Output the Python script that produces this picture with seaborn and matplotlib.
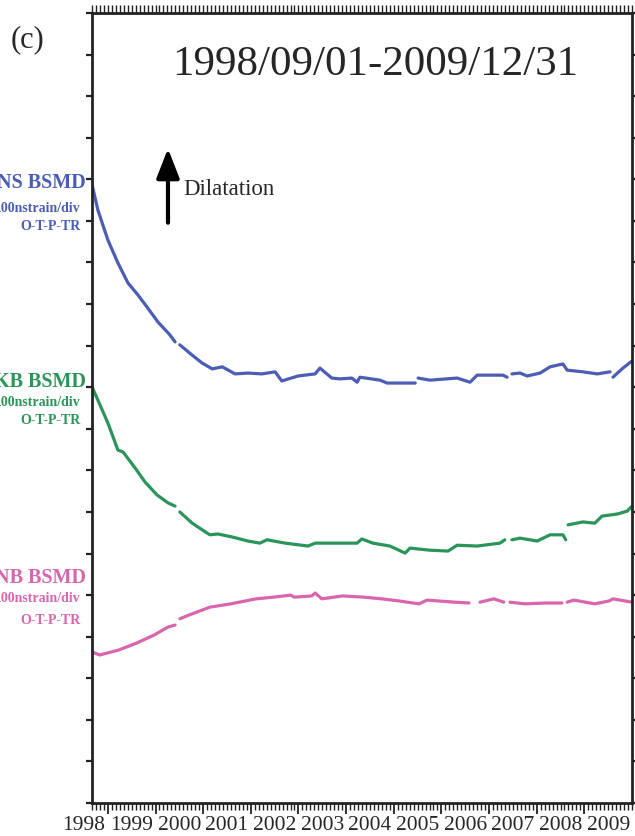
import numpy as np
import pandas as pd
import matplotlib
matplotlib.use("Agg")
import matplotlib.pyplot as plt
import matplotlib.transforms as mtransforms
from matplotlib.ticker import MultipleLocator, FixedLocator
import seaborn as sns

nan = np.nan

# strain records, decimal year vs value (100 nstrain per division, offset per station)
# nan marks a break in the record
blue_year = [1998.67, 1998.79, 1999.00, 1999.21, 1999.42, 1999.63, 1999.82, 2000.05,
             2000.30, 2000.41, 2000.46, 2000.51, 2000.77, 2000.98, 2001.19, 2001.40,
             2001.67, 2001.94, 2002.23, 2002.51, 2002.65, 2002.99, 2003.35, 2003.45,
             2003.70, 2003.87, 2004.12, 2004.23, 2004.29, 2004.71, 2004.86, 2005.34,
             2005.45, 2005.48, 2005.51, 2005.76, 2006.33, 2006.60, 2006.75, 2007.29,
             2007.38, 2007.43, 2007.48, 2007.65, 2007.80, 2008.07, 2008.28, 2008.55,
             2008.64, 2008.97, 2009.27, 2009.54, 2009.57, 2009.60, 2009.81, 2010.00]
blue_val = [1486, 1426, 1354, 1299, 1251, 1222, 1193, 1157,
            1126, 1109, nan, 1102, 1077, 1058, 1044, 1049,
            1032, 1034, 1032, 1037, 1015, 1027, 1032, 1046,
            1022, 1020, 1022, 1012, 1024, 1017, 1010, 1010,
            1010, nan, 1022, 1017, 1022, 1012, 1029, 1029,
            1024, nan, 1032, 1034, 1027, 1034, 1049, 1056,
            1041, 1037, 1032, 1037, nan, 1024, 1046, 1063]

green_year = [1998.67, 1998.79, 1999.00, 1999.21, 1999.32, 1999.57, 1999.78, 2000.03,
              2000.26, 2000.41, 2000.46, 2000.51, 2000.77, 2000.98, 2001.14, 2001.31,
              2001.60, 2001.94, 2002.19, 2002.34, 2002.72, 2003.20, 2003.35, 2003.83,
              2004.23, 2004.33, 2004.56, 2004.92, 2005.24, 2005.34, 2005.76, 2006.14,
              2006.33, 2006.75, 2007.23, 2007.33, 2007.40, 2007.48, 2007.65, 2008.01,
              2008.28, 2008.55, 2008.61, 2008.63, 2008.66, 2008.97, 2009.22, 2009.37,
              2009.69, 2009.90, 2010.00]
green_val = [1000, 969, 914, 849, 844, 806, 772, 741,
             722, 714, nan, 700, 673, 657, 645, 647,
             640, 630, 625, 633, 625, 618, 625, 625,
             625, 635, 625, 618, 601, 613, 608, 606,
             620, 618, 625, 633, nan, 633, 637, 630,
             645, 645, 633, nan, 669, 676, 673, 690,
             695, 702, 714]

pink_year = [1998.67, 1998.83, 1999.23, 1999.61, 1999.97, 2000.26, 2000.41, 2000.46,
             2000.51, 2000.70, 2001.14, 2001.58, 2002.11, 2002.47, 2002.84, 2002.91,
             2003.28, 2003.35, 2003.49, 2003.93, 2004.38, 2004.75, 2005.11, 2005.40,
             2005.53, 2005.70, 2005.93, 2006.28, 2006.58, 2006.70, 2006.81, 2007.10,
             2007.31, 2007.38, 2007.44, 2007.75, 2008.19, 2008.53, 2008.59, 2008.64,
             2008.78, 2009.22, 2009.52, 2009.60, 2010.00]
pink_val = [363, 356, 368, 385, 404, 423, 428, nan,
            443, 452, 471, 479, 491, 495, 500, 495,
            498, 505, 491, 498, 495, 491, 486, 481,
            479, 488, 486, 483, 481, nan, 483, 491,
            483, nan, 483, 479, 481, 481, nan, 483,
            488, 479, 486, 491, 483]

stations = ["NS BSMD", "KB BSMD", "NB BSMD"]
years = list(range(1998, 2010))

colors = {"NS BSMD": "#4b5db4", "KB BSMD": "#2a9459", "NB BSMD": "#d865ad"}

# long table, split into segments at the nan breaks
frames = []
seg_id = 0
for name, xs, ys in zip(stations, [blue_year, green_year, pink_year],
                        [blue_val, green_val, pink_val]):
    d = pd.DataFrame({"year": xs, "value": ys})
    d["seg"] = d["value"].isna().cumsum() + seg_id
    seg_id = d["seg"].max() + 1
    d["station"] = name
    frames.append(d.dropna())
df = pd.concat(frames, ignore_index=True)

sns.set_style("ticks")
plt.rcParams["font.family"] = ["Liberation Serif", "DejaVu Serif"]

W, H = 635, 836
fig = plt.figure(figsize=(W / 100, H / 100), dpi=100)
ax = fig.add_axes([92 / W, 1 - 803 / H, 540 / W, 790 / H])

sns.lineplot(data=df, x="year", y="value", hue="station", units="seg",
             estimator=None, sort=False, palette=colors, linewidth=2.3,
             legend=False, ax=ax)

ax.set_xlim(1998 + 8 / 12, 2010)
ax.set_ylim(0, 1900)
ax.set_xlabel("")
ax.set_ylabel("")

for s in ax.spines.values():
    s.set_visible(True)
    s.set_linewidth(2)
    s.set_color("#222222")

# y: one tick per division, both sides, no labels
ax.yaxis.set_major_locator(MultipleLocator(100))
ax.tick_params(axis="y", which="major", left=True, right=True, direction="out",
               length=4, width=1.6, labelleft=False, color="#222222")

# x: yearly long ticks, monthly short ticks, labels centred on each year
ax.xaxis.set_major_locator(FixedLocator(years[1:]))
ax.xaxis.set_minor_locator(MultipleLocator(1 / 12))
ax.tick_params(axis="x", which="major", bottom=True, direction="out",
               length=8, width=1.3, labelbottom=False, color="#222222")
ax.tick_params(axis="x", which="minor", bottom=True, direction="out",
               length=5, width=1.0, color="#222222")

top = ax.secondary_xaxis("top")
top.xaxis.set_major_locator(FixedLocator(years[1:]))
top.xaxis.set_minor_locator(MultipleLocator(1 / 12))
top.tick_params(which="both", direction="out", length=6, width=1.0,
                labeltop=False, color="#222222")
top.spines["top"].set_visible(False)

trans = mtransforms.blended_transform_factory(ax.transData, ax.transAxes)
for y in years:
    ax.text(y + 0.5, -0.017, str(y), transform=trans, ha="center", va="top",
            fontsize=15.5, clip_on=False)

ax.text(0.524, 0.934, "1998/09/01-2009/12/31", transform=ax.transAxes,
        ha="center", va="center", fontsize=31)
ax.text(0.1685, 0.776, "Dilatation", transform=ax.transAxes,
        ha="left", va="center", fontsize=16.5)
ax.annotate("", xy=(0.1407, 0.832), xytext=(0.1407, 0.731),
            xycoords="axes fraction",
            arrowprops=dict(arrowstyle="-|>,head_width=0.35,head_length=0.9",
                            lw=3, color="black", mutation_scale=20))

fig.text(11 / W, 1 - 40 / H, "(c)", ha="left", va="center", fontsize=22)

# station labels on the left margin (pixel rows of the three lines)
label_rows = {"NS BSMD": (183, 208, 227),
              "KB BSMD": (382, 403, 421),
              "NB BSMD": (578, 599, 620)}
for name in stations:
    y1, y2, y3 = label_rows[name]
    c = colors[name]
    fig.text(86 / W, 1 - y1 / H, name, ha="right", va="center",
             fontsize=14.5, fontweight="bold", color=c)
    fig.text(81 / W, 1 - y2 / H, "100nstrain/div", ha="right",
             va="center", fontsize=10, fontweight="bold", color=c)
    fig.text(81 / W, 1 - y3 / H, "O-T-P-TR", ha="right",
             va="center", fontsize=10, fontweight="bold", color=c)

fig.savefig("out.png", dpi=100)
